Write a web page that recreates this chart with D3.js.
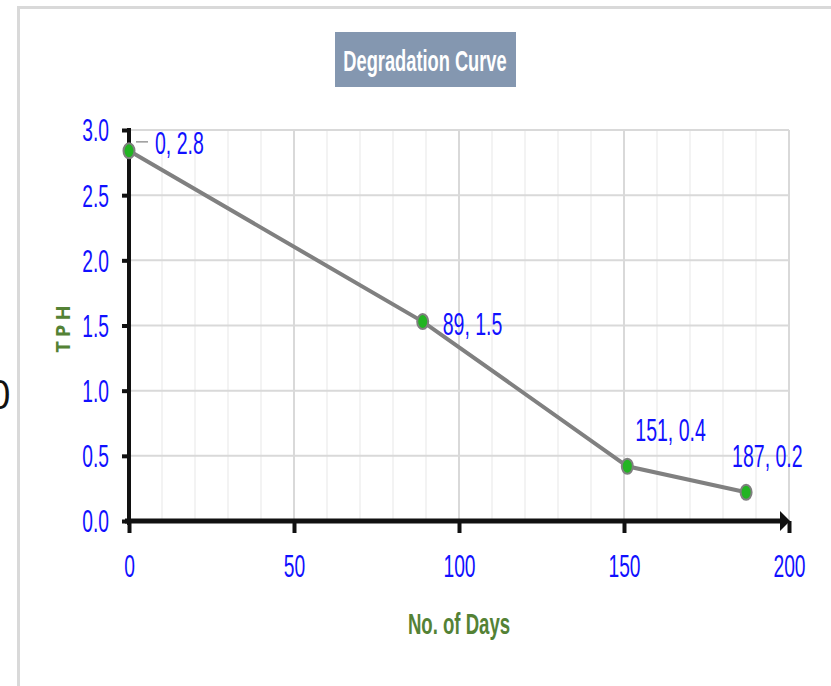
<!DOCTYPE html>
<html><head><meta charset="utf-8">
<script src="https://cdn.jsdelivr.net/npm/d3@7"></script>
<style>body{margin:0;background:#fff;} svg{display:block;}</style>
</head><body>
<svg id="c" width="831" height="686"></svg>
<script>
const days = [0, 89, 151, 187];
const tph = [2.84, 1.53, 0.42, 0.22];
const xTicks = [0, 50, 100, 150, 200];
const yTicks = [0.0, 0.5, 1.0, 1.5, 2.0, 2.5, 3.0];
const title = "Degradation Curve";
const xTitle = "No. of Days";
const yTitle = "TPH";

const svg = d3.select("#c");
const sans = "'Liberation Sans',Arial,sans-serif";
const blue = "#1010ff", green = "#548235";

// horizontally condense a text by moving its x/y into a transform with a scale
function condense(sel, f) {
  sel.each(function(){
    const t = d3.select(this);
    const tx = +t.attr("x") || 0, ty = +t.attr("y") || 0;
    t.attr("x",0).attr("y",0).attr("transform",`translate(${tx},${ty}) scale(${f},1)`);
  });
}

// frame
svg.append("path").attr("d","M18.5,686 V7.5 H831").attr("fill","none").attr("stroke","#d9d9d9").attr("stroke-width",3);
// stray glyph at the left edge
svg.append("text").attr("x",-12).attr("y",409).attr("font-family","Open Sans,sans-serif").attr("font-size",40).attr("fill","#111").text("0");

const x = d3.scaleLinear().domain([0,200]).range([129,789]);
const y = d3.scaleLinear().domain([0,3]).range([521,130]);

// gridlines
const g = svg.append("g");
g.selectAll(".vx").data(d3.range(10,201,10)).join("line")
  .attr("x1",d=>x(d)).attr("x2",d=>x(d)).attr("y1",y(3)).attr("y2",y(0))
  .attr("stroke",d=>d%50===0?"#d9d9d9":"#efefef").attr("stroke-width",d=>d%50===0?2:1.5);
g.selectAll(".hy").data(yTicks.filter(d=>d>0)).join("line")
  .attr("x1",x(0)).attr("x2",x(200)).attr("y1",d=>y(d)).attr("y2",d=>y(d))
  .attr("stroke","#d9d9d9").attr("stroke-width",2);

// axes
const xAxis = d3.axisBottom(x).tickValues(xTicks).tickSize(12).tickFormat(d3.format("d"));
const yAxis = d3.axisLeft(y).tickValues(yTicks).tickSize(7).tickFormat(d3.format(".1f"));
const gx = svg.append("g").attr("transform",`translate(0,${y(0)})`).call(xAxis);
const gy = svg.append("g").attr("transform",`translate(${x(0)},0)`).call(yAxis);
[gx,gy].forEach(a=>{a.select(".domain").remove();a.selectAll(".tick line").attr("stroke","#111").attr("stroke-width",4);
  a.selectAll("text").attr("fill",blue).attr("font-family",sans).attr("font-size",31);});
gx.selectAll("text").attr("dy",0).attr("y",56);
gy.selectAll("text").attr("x",-20).attr("dy","0.35em");
condense(gx.selectAll("text"),0.62);
condense(gy.selectAll("text"),0.62);

// axis lines
svg.append("line").attr("x1",x(0)).attr("x2",x(0)).attr("y1",y(3)-2).attr("y2",y(0)+4).attr("stroke","#111").attr("stroke-width",4);
svg.append("line").attr("x1",x(0)-4).attr("x2",x(200)-8).attr("y1",y(0)).attr("y2",y(0)).attr("stroke","#111").attr("stroke-width",5);
svg.append("path").attr("d",`M${x(200)-9},${y(0)-10} L${x(200)+1},${y(0)} L${x(200)-9},${y(0)+10} Z`).attr("fill","#111");

// line
const pts = days.map((d,i)=>[d,tph[i]]);
svg.append("path").datum(pts).attr("d",d3.line().x(d=>x(d[0])).y(d=>y(d[1])))
  .attr("fill","none").attr("stroke","#808080").attr("stroke-width",4);
svg.selectAll(".m").data(pts).join("ellipse").attr("cx",d=>x(d[0])).attr("cy",d=>y(d[1]))
  .attr("rx",5.5).attr("ry",7.5).attr("fill","#22b422").attr("stroke","#7f7f7f").attr("stroke-width",2);

// data labels
const off = [[26,3],[20,13],[8,-25],[-14,-25]];
const lbl = svg.selectAll(".lb").data(pts).join("text")
  .attr("x",(d,i)=>x(d[0])+off[i][0]).attr("y",(d,i)=>y(d[1])+off[i][1])
  .attr("fill",blue).attr("font-family",sans).attr("font-size",31)
  .text(d=>`${d[0]}, ${d3.format(".1f")(d[1])}`);
condense(lbl,0.63);
svg.append("line").attr("x1",x(0)+7).attr("x2",x(0)+19).attr("y1",y(tph[0])-9).attr("y2",y(tph[0])-9)
  .attr("stroke","#999").attr("stroke-width",1.5);

// title
svg.append("rect").attr("x",335).attr("y",32).attr("width",181).attr("height",55).attr("fill","#8497b0");
const tt = svg.append("text").attr("x",425).attr("y",71).attr("text-anchor","middle").attr("fill","#fff")
  .attr("font-family",sans).attr("font-weight","bold").attr("font-size",29).text(title);
condense(tt,0.63);

// axis titles
const xt = svg.append("text").attr("x",459).attr("y",634).attr("text-anchor","middle").attr("fill",green)
  .attr("font-family",sans).attr("font-weight","bold").attr("font-size",30).text(xTitle);
condense(xt,0.62);
svg.append("text").attr("transform","translate(70,327) rotate(-90)").attr("text-anchor","middle").attr("fill",green)
  .attr("font-family","'Open Sans',sans-serif").attr("font-weight","bold").attr("font-size",20).attr("letter-spacing",4).text(yTitle);
</script>
</body></html>
